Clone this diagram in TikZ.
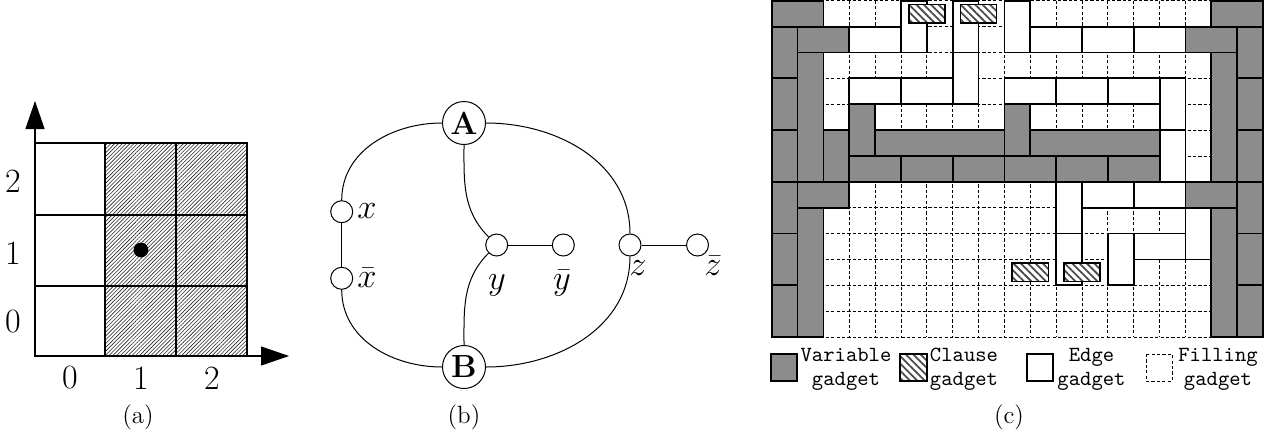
\documentclass[tikz,border=0pt]{standalone}
\usepackage{amsmath,amssymb}
\usetikzlibrary{arrows.meta,patterns.meta}
\tikzset{
  cellline/.style ={line width=0.6pt},
  shadecell/.style={pattern={Lines[angle=45,distance=1.35pt,line width=0.3pt]}, pattern color=black!85},
  axisline/.style ={line width=0.6pt, -{Triangle[length=14pt,width=9.5pt]}},
  axislbl/.style  ={font=\fontsize{17}{20}\selectfont, inner sep=0pt},
  bigv/.style  ={circle, draw, line width=0.5pt, minimum size=21.5pt, inner sep=0pt,
                 fill=white, font=\fontsize{16}{18}\selectfont\bfseries},
  smallv/.style={circle, draw, line width=0.5pt, minimum size=11pt, inner sep=0pt, fill=white},
  vlbl/.style  ={font=\fontsize{18}{20}\selectfont, inner sep=0pt},
  bline/.style ={line width=0.5pt},
  vargad/.style   ={draw, line width=0.9pt, fill=black!45},
  clausegad/.style={draw, line width=0.8pt, preaction={fill=white},
                    pattern={Lines[angle=-45,distance=2.6pt,line width=0.9pt]}, pattern color=black!70},
  edgegad/.style  ={draw, line width=0.9pt, fill=white},
  fillgad/.style  ={draw, line width=0.45pt, dash pattern=on 1.6pt off 1.1pt},
  legtext/.style  ={font=\fontsize{10.8}{13}\selectfont\ttfamily, inner sep=0pt},
  subcap/.style   ={font=\fontsize{12.5}{15}\selectfont, inner sep=0pt},
}

\begin{document}
\begin{tikzpicture}[x=0.5pt, y=-0.5pt]
\useasboundingbox (0,0) rectangle (1285,434);
% (a)
\fill[shadecell] (105,143) rectangle (247,356);
\draw[cellline] (35,143) rectangle (247,356);
\foreach \gx in {105,176} \draw[cellline] (\gx,143) -- (\gx,356);
\foreach \gy in {215,286} \draw[cellline] (35,\gy) -- (247,\gy);
\coordinate (orig) at (35,356);
\coordinate (yend) at (35,101);
\coordinate (xend) at (289,356);
\draw[axisline] (orig) -- (yend);
\draw[axisline] (orig) -- (xend);
\fill (141,250) circle (3.7pt);
\foreach \v/\gy in {2/181.7,1/253,0/321.7}
  \node[axislbl] (ylab\v) at (13,\gy) {\v};
\foreach \v/\gx in {0/70,1/141,2/212}
  \node[axislbl] (xlab\v) at (\gx,378) {\v};
\node[subcap] (capa) at (138,417) {(a)};
% (b)
\node[bigv] (A) at (464,123) {A};
\node[bigv] (B) at (464,367) {B};
\node[smallv] (x)  at (341.7,211.7) {};
\node[smallv] (xb) at (341.7,278.3) {};
\node[smallv] (y)  at (496.7,245) {};
\node[smallv] (yb) at (563.3,245) {};
\node[smallv] (z)  at (630,245) {};
\node[smallv] (zb) at (697.5,245) {};
\draw[bline] (A) to[out=180,in=90] (x);
\draw[bline] (x) -- (xb);
\draw[bline] (xb) to[out=-90,in=180] (B);
\draw[bline] (A) to[out=-90,in=135] (y);
\draw[bline] (y) to[out=225,in=90] (B);
\draw[bline] (A) to[out=0,in=90] (z);
\draw[bline] (z) to[out=-90,in=0] (B);
\draw[bline] (y) -- (yb);
\draw[bline] (z) -- (zb);
\node[vlbl] (lx)  at (367,211) {$x$};
\node[vlbl] (lxb) at (367,278) {$\bar{x}$};
\node[vlbl] (ly)  at (497,285) {$y$};
\node[vlbl] (lyb) at (562,283) {$\bar{y}$};
\node[vlbl] (lz)  at (638,268) {$z$};
\node[vlbl] (lzb) at (713,266) {$\bar{z}$};
\node[subcap] (capb) at (464,417) {(b)};
% (c)
\begin{scope}[shift={(771.7,0.8)}, x=12.93pt, y=-12.93pt]
\foreach \c in {0,...,19} \draw[fillgad] (\c,0) -- (\c,13);
\foreach \r in {0,...,13} \draw[fillgad] (0,\r) -- (19,\r);
\foreach \c/\r/\w/\h in {3/1/2/1, 5/0/1/2, 7/0/1/2, 9/0/1/2, 10/1/2/1, 12/1/2/1, 14/1/2/1,
    7/2/1/2, 3/3/2/1, 5/3/2/1, 9/3/2/1, 11/3/2/1, 13/3/2/1, 15/3/1/2, 15/5/1/2,
    11/7/1/2, 12/7/2/1, 14/7/2/1, 16/8/1/2, 11/9/1/2, 13/9/1/2, 14/9/2/1}
  \draw[edgegad] (\c,\r) rectangle ++(\w,\h);
\foreach \c/\r/\w/\h in {0/0/2/1, 0/1/1/2, 0/3/1/2, 0/5/1/2, 0/7/1/2, 0/9/1/2, 0/11/1/2,
    1/1/2/1, 1/2/1/5, 1/7/2/1, 1/8/1/5, 2/5/1/2, 3/4/1/2, 4/5/5/1,
    3/6/2/1, 5/6/2/1, 7/6/2/1, 9/4/1/2, 10/5/5/1, 9/6/2/1, 11/6/2/1, 13/6/2/1,
    17/0/2/1, 18/1/1/2, 18/3/1/2, 18/5/1/2, 18/7/1/2, 18/9/1/2, 18/11/1/2,
    16/1/2/1, 17/2/1/5, 16/7/2/1, 17/8/1/5}
  \draw[vargad] (\c,\r) rectangle ++(\w,\h);
\foreach \c/\r in {6/0.5, 8/0.5, 10/10.5, 12/10.5}
  \draw[clausegad] (\c-0.7,\r-0.36) rectangle (\c+0.7,\r+0.36);
\end{scope}
\draw[vargad]    (771,354) rectangle (797,381);
\draw[clausegad] (900,354) rectangle (927,381);
\draw[edgegad]   (1027,354) rectangle (1053,381);
\draw[fillgad]   (1146,354) rectangle (1172,381);
\foreach \nm/\tx/\cx in {var/Variable/846, cla/Clause/964, edg/Edge/1091.5, fil/Filling/1218}{
  \node[legtext, anchor=base] (\nm1) at (\cx,361) {\tx};
  \node[legtext, anchor=base] (\nm2) at (\cx,385) {gadget};
}
\node[subcap] (capc) at (1009,417) {(c)};
\end{tikzpicture}
\end{document}
